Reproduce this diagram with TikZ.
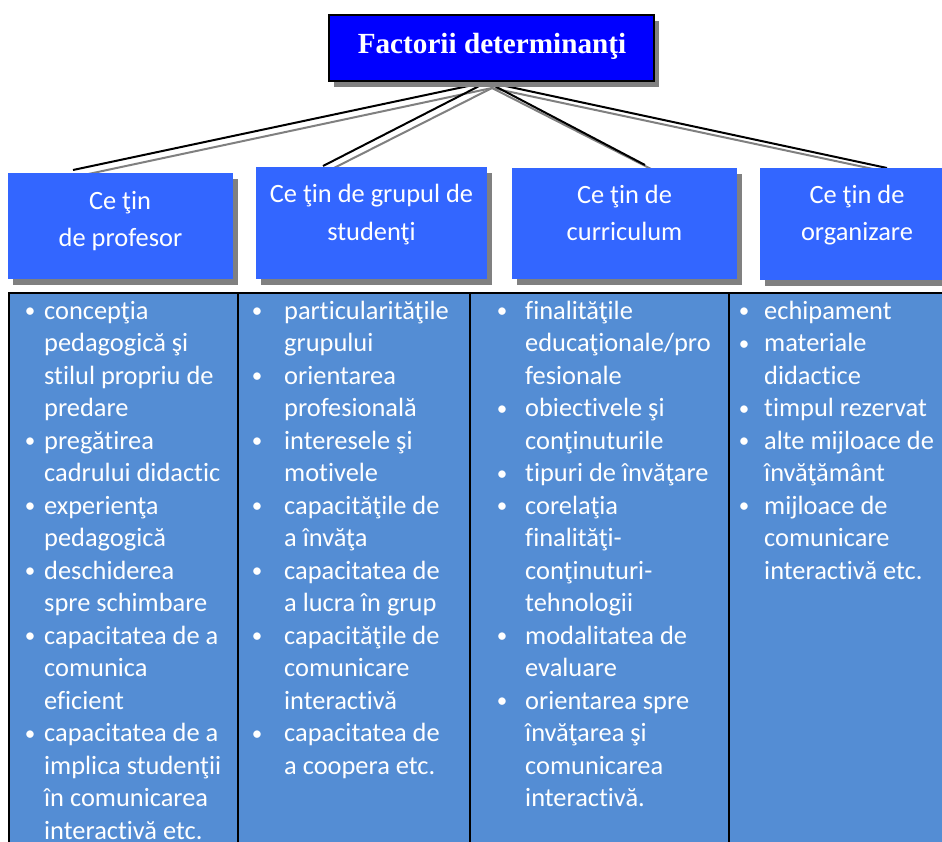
\documentclass[tikz,border=0pt]{standalone}
\usepackage{fontspec}
\setmainfont{Carlito}[Ligatures=NoCommon]
\newfontfamily\titlefont{Liberation Serif}
\usetikzlibrary{shadows}
\definecolor{titleblue}{RGB}{0,0,255}
\definecolor{headblue}{RGB}{51,102,255}
\definecolor{tableblue}{RGB}{84,141,212}
\definecolor{shadowgray}{RGB}{128,128,128}
\tikzset{
  myshadow/.style={drop shadow={shadow xshift=5pt,shadow yshift=-6pt,fill=shadowgray,opacity=1}},
  titlebox/.style={draw=black,line width=2.5pt,fill=titleblue,inner sep=0,myshadow},
  headbox/.style={fill=headblue,inner sep=0,myshadow},
  headtext/.style={anchor=base,inner sep=0,text=white,font=\fontsize{26.4}{32}\selectfont},
  itemtext/.style={anchor=base west,inner sep=0,text=white,font=\fontsize{26.4}{32}\selectfont},
  bullettext/.style={anchor=base,inner sep=0,text=white,font=\fontsize{21}{26}\selectfont},
  link/.style={line width=2pt,black},
  linkshadow/.style={line width=2pt,shadowgray},
  grid/.style={line width=2pt,black}
}
\newcommand\colitems[4]{%
  \foreach \b/\t [count=\i] in {#4} {
    \node[itemtext] (#1l\i) at (#3,{319+32.5*(\i-1)}) {\t};
    \ifnum\b=1 \node[bullettext] (#1b\i) at (#2,{317.5+32.5*(\i-1)}) {•};\fi
  }%
}
\begin{document}
\begin{tikzpicture}[x=1pt,y=-1pt]
\useasboundingbox (0,0) rectangle (942,841);
\clip (0,0) rectangle (942,841);
% table
\fill[tableblue] (9,293) rectangle (960,860);
\draw[grid] (960,293) -- (9,293) -- (9,860);
\draw[grid] (238,293) -- (238,860);
\draw[grid] (470,293) -- (470,860);
\draw[grid] (729,293) -- (729,860);
% connectors (shadow first)
\coordinate (ts) at (492,88);
\coordinate (s1) at (79,176);
\coordinate (s2) at (328,171);
\coordinate (s3) at (659,173);
\coordinate (s4) at (892,173);
\coordinate (tb) at (487,82);
\coordinate (e1) at (73,170);
\coordinate (e2) at (323,166);
\coordinate (e3) at (645,165);
\coordinate (e4) at (887,168);
\foreach \k in {1,2,3,4} {\draw[linkshadow] (ts) -- (s\k);}
\foreach \k in {1,2,3,4} {\draw[link] (tb) -- (e\k);}
% header boxes
\node[headbox,minimum width=225pt,minimum height=106pt] (h1) at (120.5,226) {};
\node[headbox,minimum width=231pt,minimum height=112pt] (h2) at (371.5,223) {};
\node[headbox,minimum width=225pt,minimum height=111pt] (h3) at (624.5,223.5) {};
\node[headbox,minimum width=194pt,minimum height=112pt] (h4) at (857,224) {};
\node[headtext] (h1a) at (120,209) {Ce ţin};
\node[headtext] (h1b) at (120.5,246) {de profesor};
\node[headtext] (h2a) at (371.5,202) {Ce ţin de grupul de};
\node[headtext] (h2b) at (371.5,240) {studenţi};
\node[headtext] (h3a) at (624.5,203) {Ce ţin de};
\node[headtext] (h3b) at (624.5,240) {curriculum};
\node[headtext] (h4a) at (857,203) {Ce ţin de};
\node[headtext] (h4b) at (857,240) {organizare};
% title
\node[titlebox,minimum width=325pt,minimum height=66pt] (title) at (491.5,48) {};
\node[anchor=base,inner sep=0,text=white,font=\titlefont\bfseries\fontsize{29.2}{34}\selectfont] (titletext) at (492,53) {Factorii determinanţi};
% columns
\colitems{a}{30}{44}{1/concepţia,0/pedagogică şi,0/stilul propriu de,0/predare,1/pregătirea,0/cadrului didactic,1/experienţa,0/pedagogică,1/deschiderea,0/spre schimbare,1/capacitatea de a,0/comunica,0/eficient,1/capacitatea de a,0/implica studenţii,0/în comunicarea,0/interactivă etc.}
\colitems{b}{257}{284}{1/particularităţile,0/grupului,1/orientarea,0/profesională,1/interesele şi,0/motivele,1/capacităţile de,0/a învăţa,1/capacitatea de,0/a lucra în grup,1/capacităţile de,0/comunicare,0/interactivă,1/capacitatea de,0/a coopera etc.}
\colitems{c}{502}{525}{1/finalităţile,0/{educaţionale/pro},0/fesionale,1/obiectivele şi,0/conţinuturile,1/tipuri de învăţare,1/corelaţia,0/finalităţi-,0/conţinuturi-,0/tehnologii,1/modalitatea de,0/evaluare,1/orientarea spre,0/învăţarea şi,0/comunicarea,0/interactivă.}
\colitems{d}{744}{764}{1/echipament,1/materiale,0/didactice,1/timpul rezervat,1/alte mijloace de,0/învăţământ,1/mijloace de,0/comunicare,0/interactivă etc.}
\end{tikzpicture}
\end{document}
